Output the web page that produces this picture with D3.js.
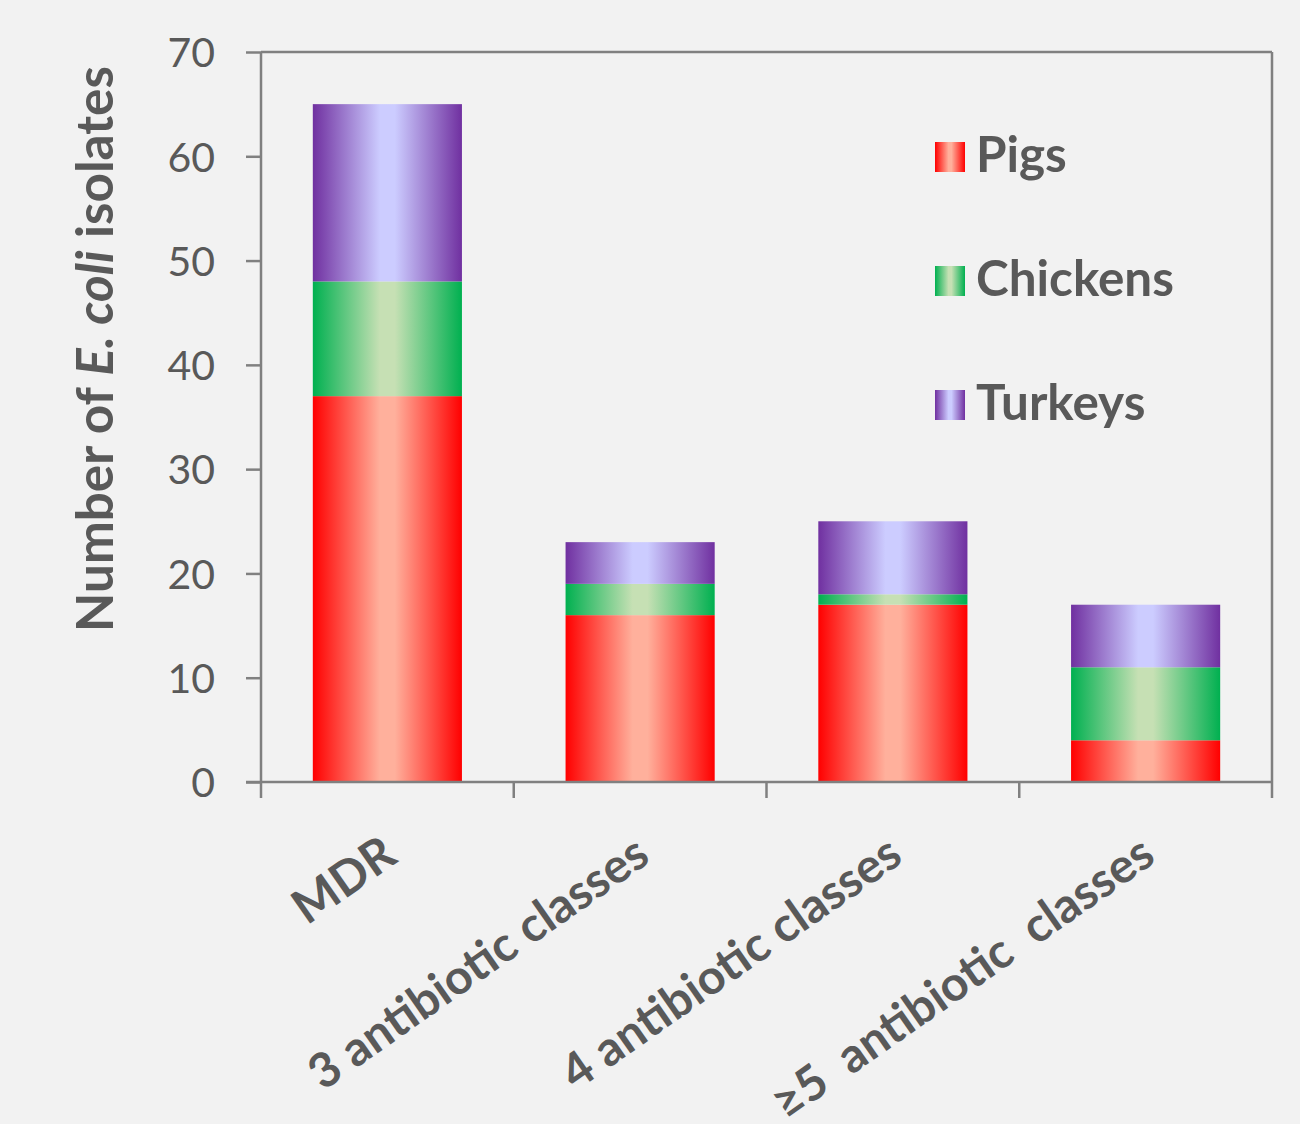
<!DOCTYPE html>
<html><head><meta charset="utf-8">
<script src="https://cdn.jsdelivr.net/npm/d3@7"></script>
<style>
html,body{margin:0;padding:0;background:#f2f2f2;}
svg{display:block;}
</style></head>
<body>
<svg id="chart" width="1300" height="1124"></svg>
<script>
const categories = ["MDR", "3 antibiotic classes", "4 antibiotic classes", "\u22655  antibiotic  classes"];
const seriesNames = ["Pigs", "Chickens", "Turkeys"];
const pigs = [37, 16, 17, 4];
const chickens = [11, 3, 1, 7];
const turkeys = [17, 4, 7, 6];
const yTicks = [0, 10, 20, 30, 40, 50, 60, 70];

const colors = {
  Pigs: ["#ff0000", "#ffb09c"],
  Chickens: ["#00b050", "#c6e0b4"],
  Turkeys: ["#7030a0", "#ccccff"]
};
const FONT = "Lato, 'Open Sans', sans-serif";
const TXT = "#595959";

function fit(sel, target) {
  const len = sel.node().getComputedTextLength();
  const fs = parseFloat(sel.attr("font-size"));
  return fs * target / len;
}

const svg = d3.select("#chart");
const W = 1300, H = 1124;
svg.append("rect").attr("width", W).attr("height", H).attr("fill", "#f2f2f2");

const m = {left: 261, right: 1272, top: 52, bottom: 782};
const x = d3.scaleBand().domain(categories).range([m.left, m.right]).paddingInner(0.41).paddingOuter(0.205);
const y = d3.scaleLinear().domain([0, 70]).range([m.bottom, m.top]);

const defs = svg.append("defs");
seriesNames.forEach(s => {
  const g = defs.append("linearGradient").attr("id", "g-" + s).attr("x1", "0%").attr("x2", "100%").attr("y1", "0%").attr("y2", "0%");
  g.append("stop").attr("offset", "0%").attr("stop-color", colors[s][0]);
  g.append("stop").attr("offset", "45%").attr("stop-color", colors[s][1]);
  g.append("stop").attr("offset", "55%").attr("stop-color", colors[s][1]);
  g.append("stop").attr("offset", "100%").attr("stop-color", colors[s][0]);
});

const table = categories.map((c, i) => ({cat: c, Pigs: pigs[i], Chickens: chickens[i], Turkeys: turkeys[i]}));
const stacked = d3.stack().keys(seriesNames)(table);

// frame (top & right)
svg.append("line").attr("x1", m.left).attr("x2", m.right).attr("y1", m.top).attr("y2", m.top).attr("stroke", "#808080").attr("stroke-width", 2.5);
svg.append("line").attr("x1", m.right).attr("x2", m.right).attr("y1", m.top).attr("y2", m.bottom).attr("stroke", "#808080").attr("stroke-width", 2.5);

stacked.forEach(layer => {
  svg.append("g").selectAll("rect").data(layer).join("rect")
    .attr("x", d => x(d.data.cat))
    .attr("width", x.bandwidth())
    .attr("y", d => y(d[1]))
    .attr("height", d => y(d[0]) - y(d[1]))
    .attr("fill", "url(#g-" + layer.key + ")");
});

// y axis
const yAxis = svg.append("g").attr("transform", `translate(${m.left},0)`)
  .call(d3.axisLeft(y).tickValues(yTicks).tickSize(15).tickPadding(31).tickFormat(d3.format("d")));
yAxis.select(".domain").attr("stroke", "#808080").attr("stroke-width", 2.5).attr("d", `M0,${m.top}V${m.bottom}`);
yAxis.selectAll(".tick line").attr("stroke", "#808080").attr("stroke-width", 2.5);
yAxis.selectAll(".tick text").attr("fill", TXT).attr("font-family", FONT).attr("font-size", 41).attr("dy", "0.36em");

// x axis
const xAxis = svg.append("g").attr("transform", `translate(0,${m.bottom})`);
xAxis.append("line").attr("x1", m.left - 15).attr("x2", m.right).attr("y1", 0).attr("y2", 0).attr("stroke", "#808080").attr("stroke-width", 2.5);
const bounds = d3.range(categories.length + 1).map(i => m.left + i * (m.right - m.left) / categories.length);
xAxis.selectAll("line.tk").data(bounds).join("line").attr("class", "tk")
  .attr("x1", d => d).attr("x2", d => d).attr("y1", 0).attr("y2", 16)
  .attr("stroke", "#808080").attr("stroke-width", 2.5);
const cl = xAxis.selectAll("text.cl").data(categories).join("text").attr("class", "cl")
  .attr("transform", d => `translate(${x(d) + x.bandwidth() / 2 + 12},${79}) rotate(-35)`)
  .attr("text-anchor", "end")
  .attr("fill", TXT)
  .attr("font-family", FONT)
  .attr("font-weight", "bold")
  .attr("font-size", 40)
  .style("white-space", "pre")
  .attr("xml:space", "preserve")
  .text(d => d);
const clSize = fit(cl.filter((d, i) => i === 1), 402);
cl.attr("font-size", clSize);

// y title
const yt = svg.append("text")
  .attr("transform", `translate(113,${349}) rotate(-90)`)
  .attr("text-anchor", "middle")
  .attr("fill", TXT)
  .attr("font-family", FONT)
  .attr("font-weight", "bold")
  .attr("font-size", 40);
yt.append("tspan").text("Number of ");
yt.append("tspan").attr("font-style", "italic").text("E. coli");
yt.append("tspan").text(" isolates");
yt.attr("font-size", fit(yt, 566));

// legend
const leg = svg.append("g");
const legTexts = [];
seriesNames.forEach((s, i) => {
  const ly = 142 + i * 124;
  leg.append("rect").attr("x", 935).attr("y", ly).attr("width", 30).attr("height", 30).attr("fill", `url(#g-${s})`);
  legTexts.push(leg.append("text").attr("x", 976).attr("y", ly + 30).attr("fill", TXT)
    .attr("font-family", FONT).attr("font-weight", "bold").attr("font-size", 44).text(s));
});
const legSize = fit(legTexts[1], 198);
legTexts.forEach(t => t.attr("font-size", legSize));
</script>
</body></html>
